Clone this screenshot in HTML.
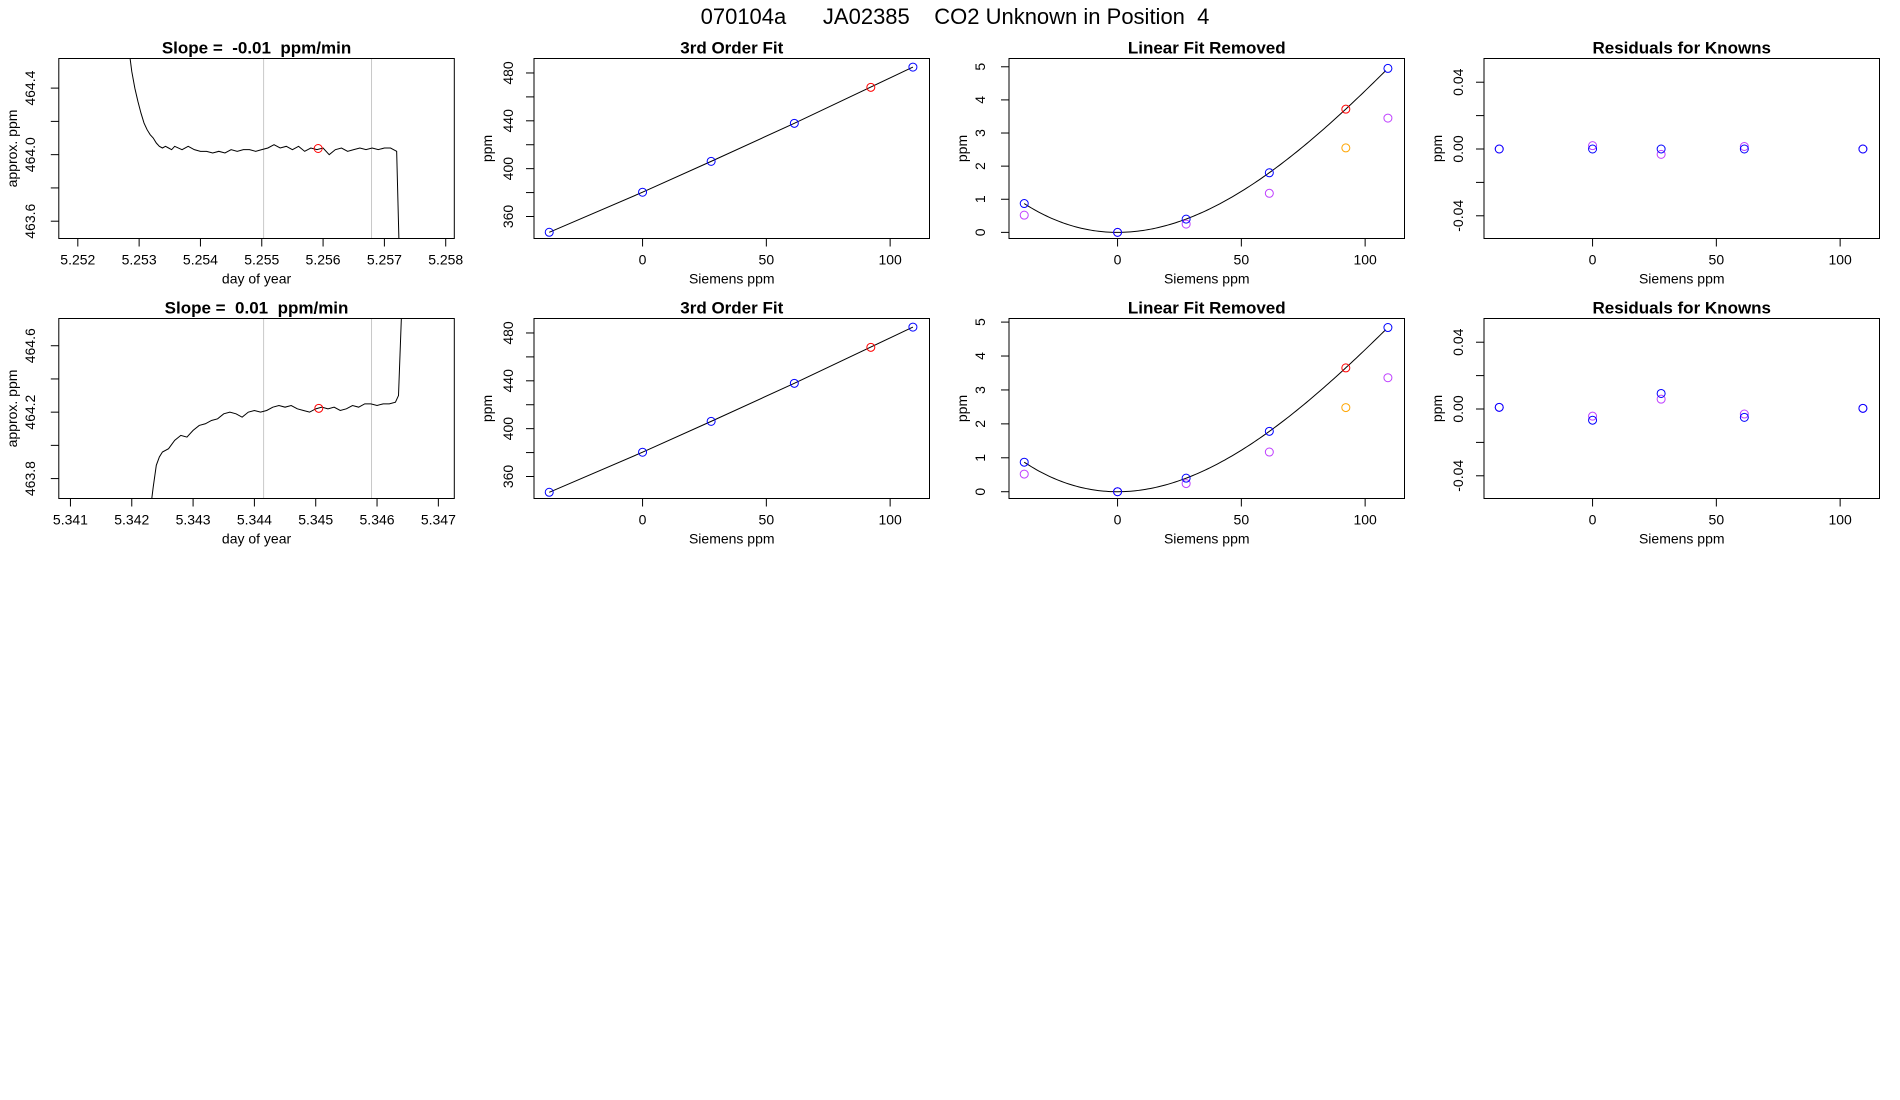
<!DOCTYPE html>
<html><head><meta charset="utf-8">
<style>
body{margin:0;background:#fff;}
svg{display:block;font-family:"Liberation Sans",sans-serif;}
</style></head>
<body>
<svg id="fig" width="1900" height="1100" viewBox="0 0 1900 1100" xmlns="http://www.w3.org/2000/svg">
<rect width="1900" height="1100" fill="#fff"/>
<text x="955" y="24" font-size="22" text-anchor="middle" style="white-space:pre" xml:space="preserve">070104a      JA02385    CO2 Unknown in Position  4</text>
</svg>
<script>
// ---- Data ----
const t1 = [5.25281,5.25288,5.25293,5.25298,5.25303,5.25308,5.25313,5.25318,5.25323,5.25328,5.25333,5.25338,5.25343,5.25348,5.25353,5.25358,5.2537,5.2538,5.2539,5.2540,5.2541,5.2542,5.2543,5.2544,5.2545,5.2546,5.2547,5.2548,5.2549,5.2550,5.2551,5.2552,5.2553,5.2554,5.2555,5.2556,5.2557,5.2558,5.2559,5.2560,5.2561,5.2562,5.2563,5.2564,5.2565,5.2566,5.2567,5.2568,5.2569,5.2570,5.2571,5.25715,5.25720,5.25725];
const v1 = [464.70,464.50,464.40,464.32,464.25,464.19,464.15,464.12,464.10,464.07,464.05,464.04,464.05,464.04,464.03,464.05,464.03,464.05,464.03,464.02,464.02,464.01,464.02,464.01,464.03,464.02,464.03,464.03,464.02,464.03,464.04,464.06,464.04,464.05,464.03,464.05,464.02,464.04,464.03,464.04,464.00,464.03,464.04,464.02,464.03,464.04,464.03,464.04,464.03,464.04,464.04,464.03,464.02,463.30];
const t2 = [5.34230,5.34235,5.3424,5.34245,5.3425,5.3426,5.3427,5.3428,5.3429,5.3430,5.3431,5.3432,5.3433,5.3434,5.3435,5.3436,5.3437,5.3438,5.3439,5.3440,5.3441,5.3442,5.3443,5.3444,5.3445,5.3446,5.3447,5.3448,5.3449,5.3450,5.3451,5.3452,5.3453,5.3454,5.3455,5.3456,5.3457,5.3458,5.3459,5.3460,5.3461,5.3462,5.3463,5.34635,5.34640];
const v2 = [463.60,463.75,463.88,463.93,463.96,463.98,464.03,464.06,464.05,464.09,464.12,464.13,464.15,464.16,464.19,464.20,464.19,464.17,464.20,464.21,464.20,464.21,464.23,464.24,464.23,464.24,464.22,464.21,464.20,464.22,464.23,464.22,464.23,464.21,464.22,464.24,464.23,464.25,464.25,464.24,464.25,464.25,464.26,464.30,464.80];
const vlines1 = [5.25503,5.25679];
const vlines2 = [5.34415,5.34591];
const unk1 = [5.25592,464.037];
const unk2 = [5.34505,464.223];
const siemX = [-37.7,0,27.7,61.3,109.2];
const unkX = 92.2;
const fitY = [346.8,380.3,406.1,437.9,484.9];
const unkFitY = 468.0;
const linBlue1 = [0.87,0,0.40,1.80,4.95];
const linPurp1 = [0.52,0,0.25,1.18,3.45];
const linRed1 = 3.72, linOrange1 = 2.55;
const linBlue2 = [0.87,0,0.40,1.78,4.84];
const linPurp2 = [0.52,0,0.24,1.17,3.36];
const linRed2 = 3.65, linOrange2 = 2.48;
const curve1 = [5.617e-4,-1.342e-6];
const curve2 = [5.593e-4,-1.405e-6];
const resBlue1 = [0,0,0,0,0];
const resPurp1 = [0,0.002,-0.0032,0.0015,0];
const resBlue2 = [0.001,-0.0067,0.0093,-0.005,0.0004];
const resPurp2 = [0.001,-0.0043,0.0059,-0.003,0.0004];

const NS="http://www.w3.org/2000/svg";
const svg=document.getElementById('fig');
function el(tag,attrs,parent){const e=document.createElementNS(NS,tag);for(const k in attrs)e.setAttribute(k,attrs[k]);(parent||svg).appendChild(e);return e;}

let clipId=0;
function panel(cfg){
  const g=el('g',{});
  
  
  const L=cfg.x,T=cfg.y,W=395.5,H=180;
  const sx=v=>L+(v-cfg.xd[0])/(cfg.xd[1]-cfg.xd[0])*W;
  const sy=v=>T+H-(v-cfg.yd[0])/(cfg.yd[1]-cfg.yd[0])*H;
  const id='c'+(clipId++);
  const cp=el('clipPath',{id:id},g);el('rect',{x:L,y:T,width:W,height:H},cp);
  const title=el('text',{x:L+W/2,y:T-5,'font-size':17,'font-weight':'bold','text-anchor':'middle','xml:space':'preserve',style:'white-space:pre'},g);
  title.textContent=cfg.title;
  
  
  const xt=cfg.xticks;
  el('line',{x1:sx(xt[0]),x2:sx(xt[xt.length-1]),y1:T+H,y2:T+H,stroke:'#000'},g);
  xt.forEach(v=>{
    el('line',{x1:sx(v),x2:sx(v),y1:T+H,y2:T+H+8,stroke:'#000'},g);
    const t=el('text',{x:sx(v),y:T+H+26,'font-size':14,'text-anchor':'middle'},g);
    t.textContent=cfg.xfmt(v);
    
    
  });
  const xl=el('text',{x:L+W/2,y:T+H+45,'font-size':14,'text-anchor':'middle'},g);
  xl.textContent=cfg.xlab;
  
  
  cfg.yticks.forEach((v,i)=>{
    el('line',{x1:L,x2:L-8,y1:sy(v),y2:sy(v),stroke:'#000'},g);
    if(cfg.ylabIdx.includes(i)){
      const xx=L+cfg.ytOff;
      const t=el('text',{x:xx,y:sy(v),'font-size':14,'text-anchor':'middle',transform:`rotate(-90 ${xx} ${sy(v)})`},g);
      t.textContent=cfg.yfmt(v);
      
      
    }
  });
  const yl=el('text',{x:L-42,y:T+H/2,'font-size':14,'text-anchor':'middle',transform:`rotate(-90 ${L-42} ${T+H/2})`},g);
  yl.textContent=cfg.ylab;
  
  
  const inner=el('g',{'clip-path':`url(#${id})`},g);
  cfg.draw(inner,sx,sy);
  el('rect',{x:L,y:T,width:W,height:H,fill:'none',stroke:'#000','stroke-width':1},g);
}
function circ(p,x,y,c){const e=el('circle',{cx:x,cy:y,r:4,fill:'none',stroke:c,'stroke-width':1},p);
  
  }
function line(p,xs,ys,sx,sy){const d=xs.map((x,i)=>(i?'L':'M')+sx(x).toFixed(2)+','+sy(ys[i]).toFixed(2)).join('');
  const e=el('path',{d:d,fill:'none',stroke:'#000','stroke-width':1},p);
  
  }

const rows=[58.5,318.5];
const cols=[58.8,534,1009,1484];
const sxd=[-43.85,115.9];
const f3=v=>v.toFixed(3), f0=v=>String(v), f1=v=>v.toFixed(1);

function timePanel(r,t,v,vl,unk,xd,yd,xticks,yticks,ylabIdx,title){
  panel({name:'time-series-panel-'+(r+1),x:cols[0],y:rows[r],xd:xd,yd:yd,xticks:xticks,xfmt:f3,xlab:'day of year',
    yticks:yticks,ylabIdx:ylabIdx,yfmt:f1,ylab:'approx. ppm',ytOff:-24,title:title,
    draw:(p,sx,sy)=>{
      vl.forEach(x=>el('line',{x1:sx(x),x2:sx(x),y1:0,y2:1100,stroke:'#c8c8c8'},p));
      line(p,t,v,sx,sy);
      circ(p,sx(unk[0]),sy(unk[1]),'#ff0000');
    }});
}
timePanel(0,t1,v1,vlines1,unk1,[5.25169,5.25814],[463.496,464.578],[5.252,5.253,5.254,5.255,5.256,5.257,5.258],[463.6,463.8,464.0,464.2,464.4],[0,2,4],'Slope =  -0.01  ppm/min');
timePanel(1,t2,v2,vlines2,unk2,[5.34081,5.34726],[463.68,464.764],[5.341,5.342,5.343,5.344,5.345,5.346,5.347],[463.8,464.0,464.2,464.4,464.6],[0,2,4],'Slope =  0.01  ppm/min');

[0,1].forEach(r=>{
  panel({name:'third-order-fit-panel-'+(r+1),x:cols[1],y:rows[r],xd:sxd,yd:[341.6,492.1],xticks:[0,50,100],xfmt:f0,xlab:'Siemens ppm',
    yticks:[360,380,400,420,440,460,480],ylabIdx:[0,2,4,6],yfmt:f0,ylab:'ppm',ytOff:-21,title:'3rd Order Fit',
    draw:(p,sx,sy)=>{
      line(p,siemX,fitY,sx,sy);
      siemX.forEach((x,i)=>circ(p,sx(x),sy(fitY[i]),'#0000ff'));
      circ(p,sx(unkX),sy(unkFitY),'#ff0000');
    }});
  const lb=r?linBlue2:linBlue1, lp=r?linPurp2:linPurp1, lr=r?linRed2:linRed1, lo=r?linOrange2:linOrange1, cv=r?curve2:curve1;
  panel({name:'linear-fit-removed-panel-'+(r+1),x:cols[2],y:rows[r],xd:sxd,yd:r?[-0.2,5.106]:[-0.185,5.25],xticks:[0,50,100],xfmt:f0,xlab:'Siemens ppm',
    yticks:[0,1,2,3,4,5],ylabIdx:[0,1,2,3,4,5],yfmt:f0,ylab:'ppm',ytOff:-24,title:'Linear Fit Removed',
    draw:(p,sx,sy)=>{
      const xs=[],ys=[];
      for(let x=siemX[0];x<=siemX[siemX.length-1]+0.01;x+=1){xs.push(x);ys.push(cv[0]*x*x+cv[1]*x*x*x);}
      line(p,xs,ys,sx,sy);
      siemX.forEach((x,i)=>circ(p,sx(x),sy(lp[i]),'#bf3fff'));
      siemX.forEach((x,i)=>circ(p,sx(x),sy(lb[i]),'#0000ff'));
      circ(p,sx(unkX),sy(lo),'#ffa500');
      circ(p,sx(unkX),sy(lr),'#ff0000');
    }});
  const rb=r?resBlue2:resBlue1, rp=r?resPurp2:resPurp1;
  panel({name:'residuals-panel-'+(r+1),x:cols[3],y:rows[r],xd:sxd,yd:[-0.0536,0.0542],xticks:[0,50,100],xfmt:f0,xlab:'Siemens ppm',
    yticks:[-0.04,-0.02,0,0.02,0.04],ylabIdx:[0,2,4],yfmt:v=>v.toFixed(2),ylab:'ppm',ytOff:-21,title:'Residuals for Knowns',
    draw:(p,sx,sy)=>{
      siemX.forEach((x,i)=>circ(p,sx(x),sy(rp[i]),'#bf3fff'));
      siemX.forEach((x,i)=>circ(p,sx(x),sy(rb[i]),'#0000ff'));
    }});
});
</script>
</body></html>
